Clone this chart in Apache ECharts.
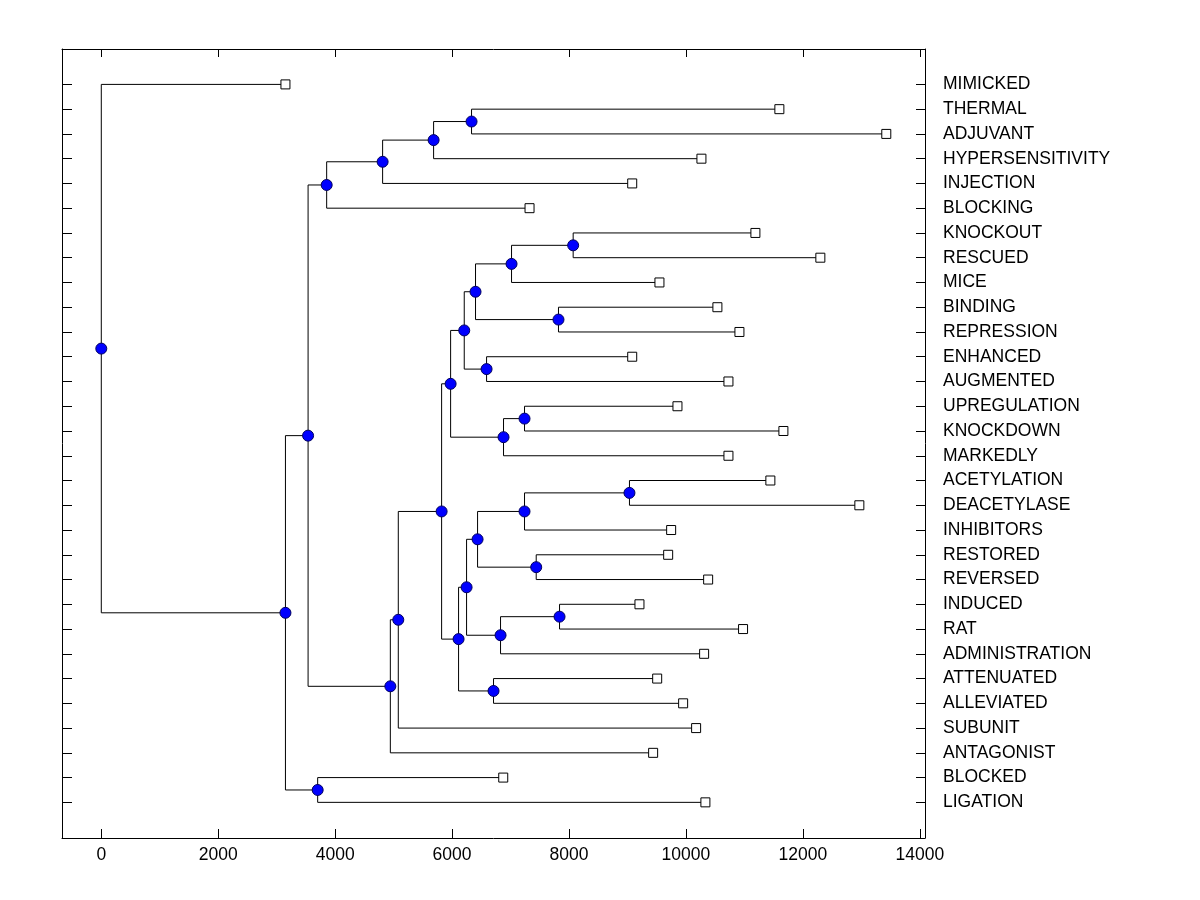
<!DOCTYPE html>
<html>
<head>
<meta charset="utf-8">
<title>Dendrogram</title>
<script src="https://cdn.jsdelivr.net/npm/echarts@6/dist/echarts.min.js"></script>
<style>
  html, body { margin: 0; padding: 0; background: #fff; }
  #chart { width: 1200px; height: 900px; }
</style>
</head>
<body>
<div id="chart"></div>
<script>
// leaves, top to bottom
const leafNames = [
  "MIMICKED", "THERMAL", "ADJUVANT", "HYPERSENSITIVITY", "INJECTION", "BLOCKING",
  "KNOCKOUT", "RESCUED", "MICE", "BINDING", "REPRESSION", "ENHANCED", "AUGMENTED",
  "UPREGULATION", "KNOCKDOWN", "MARKEDLY", "ACETYLATION", "DEACETYLASE", "INHIBITORS",
  "RESTORED", "REVERSED", "INDUCED", "RAT", "ADMINISTRATION", "ATTENUATED",
  "ALLEVIATED", "SUBUNIT", "ANTAGONIST", "BLOCKED", "LIGATION",
];
const leafHeights = [
  3150, 11598, 13427, 10265, 9081, 7325,
  11188, 12299, 9547, 10538, 10915, 9081, 10727,
  9855, 11667, 10727, 11444, 12966, 9747,
  9696, 10380, 9205, 10977, 10311, 9508,
  9952, 10174, 9439, 6875, 10333,
];

// merges, children first
const nodeIds = ["H", "G", "F", "D", "S", "Q", "R", "O", "P", "M", "T", "N", "K",
  "W", "X", "Y", "Z", "AB", "AA", "U", "V", "L", "J", "I", "E", "B", "C", "A", "root"];
const nodeLeft = ["THERMAL", "H", "G", "F", "KNOCKOUT", "S", "BINDING", "Q", "ENHANCED", "O",
  "UPREGULATION", "T", "M", "ACETYLATION", "W", "RESTORED", "X", "INDUCED", "AB", "Z",
  "ATTENUATED", "U", "K", "J", "I", "D", "BLOCKED", "B", "MIMICKED"];
const nodeRight = ["ADJUVANT", "HYPERSENSITIVITY", "INJECTION", "BLOCKING", "RESCUED", "MICE",
  "REPRESSION", "R", "AUGMENTED", "P", "KNOCKDOWN", "MARKEDLY", "N", "DEACETYLASE",
  "INHIBITORS", "REVERSED", "Y", "RAT", "ADMINISTRATION", "AA", "ALLEVIATED", "V", "L",
  "SUBUNIT", "ANTAGONIST", "E", "LIGATION", "C", "A"];
const nodeHeights = [6333, 5684, 4812, 3855, 8071, 7017, 7820, 6401, 6590, 6208, 7239, 6880, 5975,
  9034, 7239, 7439, 6436, 7838, 6829, 6248, 6709, 6111, 5821, 5080, 4944, 3537, 3701, 3150, 0];

const xTicks = [0, 2000, 4000, 6000, 8000, 10000, 12000, 14000];
const rowTicks = leafNames.map((name, i) => i);

const pos = {};
leafNames.forEach((name, i) => {
  pos[name] = { x: leafHeights[i], y: i };
});
nodeIds.forEach((id, i) => {
  const a = pos[nodeLeft[i]];
  const b = pos[nodeRight[i]];
  pos[id] = { x: nodeHeights[i], y: (a.y + b.y) / 2 };
});

const brackets = nodeIds.map((id, i) => {
  const a = pos[nodeLeft[i]];
  const b = pos[nodeRight[i]];
  const h = nodeHeights[i];
  return { coords: [[a.x, a.y], [h, a.y], [h, b.y], [b.x, b.y]] };
});

const font = { fontFamily: "Liberation Sans, Arial, sans-serif", fontSize: 17.5, color: "#000" };
const black = { lineStyle: { color: "#000", width: 1 } };
const frame = { show: true, onZero: false, ...black };

const chart = echarts.init(document.getElementById("chart"));
chart.setOption({
  animation: false,
  backgroundColor: "#fff",
  grid: { left: 62, right: 275, top: 49, bottom: 62 },
  xAxis: [
    {
      type: "value",
      position: "bottom",
      min: -672,
      max: 14089,
      axisLine: frame,
      axisTick: { show: true, inside: true, length: 9, customValues: xTicks, ...black },
      axisLabel: { show: true, customValues: xTicks, margin: 8, formatter: (v) => String(v), ...font },
      splitLine: { show: false },
    },
    {
      type: "value",
      position: "top",
      min: -672,
      max: 14089,
      axisLine: frame,
      axisTick: { show: true, inside: true, length: 8, customValues: xTicks, ...black },
      axisLabel: { show: false },
      splitLine: { show: false },
    },
  ],
  yAxis: [
    {
      type: "value",
      position: "left",
      inverse: true,
      min: -1.43,
      max: 30.44,
      axisLine: frame,
      axisTick: { show: true, inside: true, length: 10, customValues: rowTicks, ...black },
      axisLabel: { show: false },
      splitLine: { show: false },
    },
    {
      type: "value",
      position: "right",
      inverse: true,
      min: -1.43,
      max: 30.44,
      axisLine: frame,
      axisTick: { show: true, inside: true, length: 9, customValues: rowTicks, ...black },
      axisLabel: {
        show: true,
        customValues: rowTicks,
        margin: 18,
        align: "left",
        formatter: (v) => leafNames[Math.round(v)] || "",
        ...font,
      },
      splitLine: { show: false },
    },
  ],
  series: [
    {
      type: "lines",
      coordinateSystem: "cartesian2d",
      polyline: true,
      silent: true,
      lineStyle: { color: "#000", width: 1, opacity: 1 },
      data: brackets,
      z: 1,
    },
    {
      type: "scatter",
      symbol: "circle",
      symbolSize: 11,
      itemStyle: { color: "#0000ff", borderColor: "#000060", borderWidth: 1, opacity: 1 },
      data: nodeIds.map((id) => [pos[id].x, pos[id].y]),
      z: 3,
    },
    {
      type: "scatter",
      symbol: "rect",
      symbolSize: 9,
      itemStyle: { color: "#fff", borderColor: "#000", borderWidth: 1, opacity: 1 },
      data: leafNames.map((name) => [pos[name].x, pos[name].y]),
      z: 3,
    },
  ],
});
</script>
</body>
</html>
